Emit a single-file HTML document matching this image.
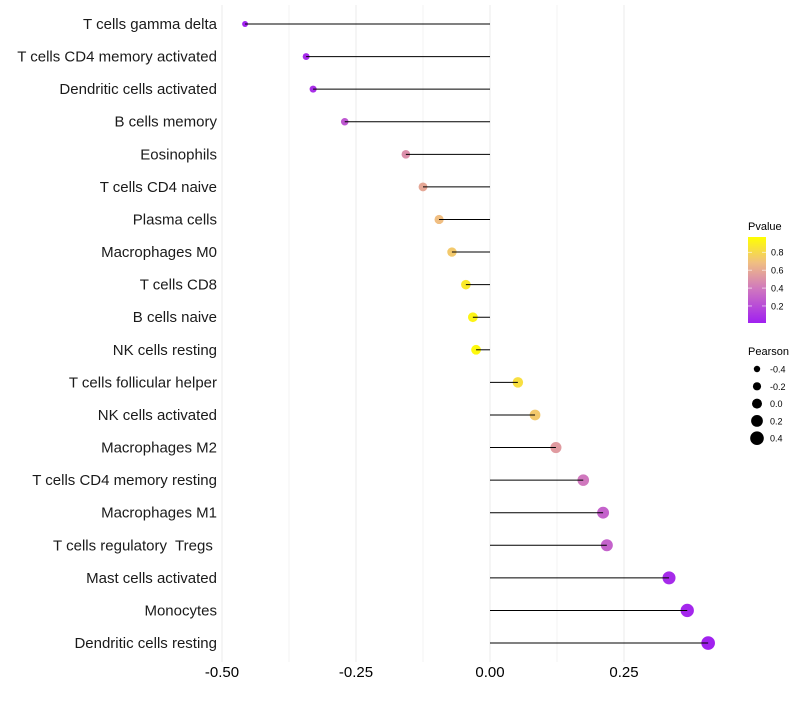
<!DOCTYPE html>
<html><head><meta charset="utf-8"><style>
body{margin:0;background:#fff;font-family:"Liberation Sans",sans-serif}
text{white-space:pre}
</style></head><body>
<svg id="c" width="800" height="700" xmlns="http://www.w3.org/2000/svg" font-family="Liberation Sans, sans-serif"></svg>
<script>
const cells=["T cells gamma delta","T cells CD4 memory activated","Dendritic cells activated","B cells memory","Eosinophils","T cells CD4 naive","Plasma cells","Macrophages M0","T cells CD8","B cells naive","NK cells resting","T cells follicular helper","NK cells activated","Macrophages M2","T cells CD4 memory resting","Macrophages M1","T cells regulatory  Tregs ","Mast cells activated","Monocytes","Dendritic cells resting"];
const pearson=[-0.457,-0.343,-0.330,-0.271,-0.157,-0.125,-0.095,-0.071,-0.045,-0.032,-0.026,0.052,0.084,0.123,0.174,0.211,0.218,0.334,0.368,0.407];
const pvalue=[0.01,0.05,0.07,0.25,0.5,0.6,0.7,0.75,0.9,0.95,0.97,0.85,0.75,0.55,0.4,0.3,0.3,0.05,0.03,0.01];
const xTicks=[-0.5,-0.25,0,0.25];
const xTickLabels=["-0.50","-0.25","0.00","0.25"];
const pTicks=[0.2,0.4,0.6,0.8];
const sizeTicks=[-0.4,-0.2,0.0,0.2,0.4];
const sizeTickLabels=["-0.4","-0.2","0.0","0.2","0.4"];

const svg=document.getElementById('c');
const NS="http://www.w3.org/2000/svg";
function mk(t,a,p){const e=document.createElementNS(NS,t);for(const k in a)e.setAttribute(k,a[k]);(p||svg).appendChild(e);return e;}
const X=v=>490+v*536;
const Y=i=>24+i*32.58;
const R=v=>5+4.5*v;
const stops=[[0,[160,32,240]],[0.4,[208,120,190]],[0.7,[240,190,130]],[1,[255,255,0]]];
function col(p){for(let i=1;i<stops.length;i++){if(p<=stops[i][0]){const a=stops[i-1],b=stops[i],t=(p-a[0])/(b[0]-a[0]);return 'rgb('+a[1].map((c,j)=>Math.round(c+(b[1][j]-c)*t)).join(',')+')';}}return 'rgb(255,255,0)';}

for(let k=0;k<=6;k++){
  const v=-0.5+k*0.125;
  const g=mk('line',{x1:X(v),x2:X(v),y1:5,y2:662,stroke:'#ebebeb','stroke-width':k%2===0?1:0.6});
  
  
}
xTicks.forEach((v,i)=>{
  const t=mk('text',{x:X(v),y:677,'text-anchor':'middle','font-size':15,fill:'#000'});
  t.textContent=xTickLabels[i];
  
  
});
cells.forEach((c,i)=>{
  const y=Y(i);
  const t=mk('text',{x:217,y:y+5,'text-anchor':'end','font-size':15,fill:'#1a1a1a'});
  t.textContent=c;
  
  
  const d=mk('circle',{cx:X(pearson[i]),cy:y,r:R(pearson[i]),fill:col(pvalue[i])});
  
  
  const l=mk('line',{x1:X(0),x2:X(pearson[i]),y1:y,y2:y,stroke:'#000','stroke-width':1});
  
  
});
const lt=mk('text',{x:748,y:230,'font-size':11});lt.textContent='Pvalue';


const defs=mk('defs',{});
const lg=mk('linearGradient',{id:'g',x1:0,y1:1,x2:0,y2:0},defs);
stops.forEach(s=>mk('stop',{offset:s[0],'stop-color':'rgb('+s[1].join(',')+')'},lg));
const pTop=237,pBot=323,pMin=0.01,pMax=0.97;
const PY=p=>pBot-(p-pMin)/(pMax-pMin)*(pBot-pTop);
const bar=mk('rect',{x:748,y:pTop,width:18,height:pBot-pTop,fill:'url(#g)'});


pTicks.forEach(p=>{
  mk('line',{x1:748,x2:752,y1:PY(p),y2:PY(p),stroke:'#fff','stroke-width':0.6});
  mk('line',{x1:762,x2:766,y1:PY(p),y2:PY(p),stroke:'#fff','stroke-width':0.6});
  const t=mk('text',{x:771,y:PY(p)+3.5,'font-size':9});t.textContent=p.toFixed(1);
  
  
});
const st=mk('text',{x:748,y:355,'font-size':11});st.textContent='Pearson';


sizeTicks.forEach((v,i)=>{
  const y=369+i*17.3;
  const c=mk('circle',{cx:757,cy:y,r:R(v),fill:'#000'});
  
  
  const t=mk('text',{x:770,y:y+3.5,'font-size':9});t.textContent=sizeTickLabels[i];
  
  
});
</script>
</body></html>
